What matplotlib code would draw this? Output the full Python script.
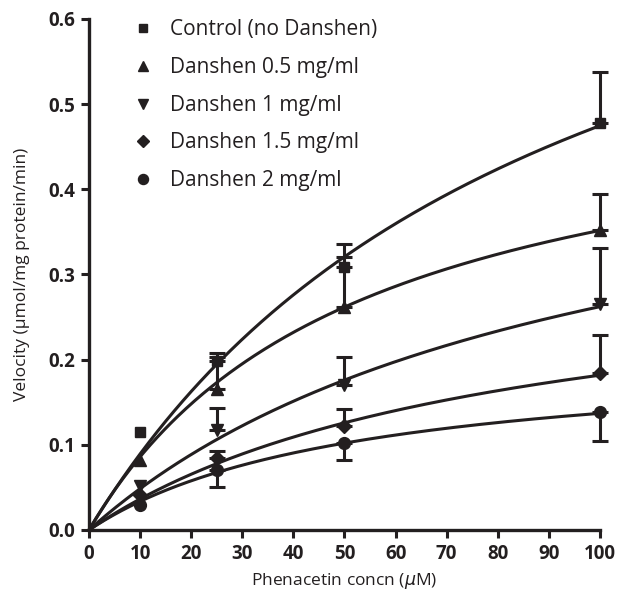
"""Michaelis-Menten plot of phenacetin O-deethylation with Danshen extract."""

import matplotlib
matplotlib.use("Agg")
import matplotlib.pyplot as plt
from matplotlib.lines import Line2D
import numpy as np

# -----------------------------
# Data
# -----------------------------
concentration = [10, 25, 50, 100]

seriesLabels = [
    "Control (no Danshen)",
    "Danshen 0.5 mg/ml",
    "Danshen 1 mg/ml",
    "Danshen 1.5 mg/ml",
    "Danshen 2 mg/ml",
]

controlVelocity = [0.115, 0.198, 0.309, 0.478]
danshen05Velocity = [0.082, 0.166, 0.262, 0.352]
danshen1Velocity = [0.052, 0.117, 0.170, 0.265]
danshen15Velocity = [0.041, 0.085, 0.122, 0.184]
danshen2Velocity = [0.029, 0.071, 0.102, 0.138]

# one-sided error bars (upper for the first four, lower for the last)
controlError = [0.0, 0.010, 0.027, 0.060]
danshen05Error = [0.0, 0.037, 0.059, 0.042]
danshen1Error = [0.0, 0.026, 0.033, 0.066]
danshen15Error = [0.0, 0.008, 0.020, 0.045]
danshen2Error = [0.0, 0.020, 0.020, 0.034]
errorUpward = [True, True, True, True, False]

# fitted Michaelis-Menten parameters of the drawn curves
vmaxFit = [0.913, 0.536, 0.514, 0.327, 0.2085]
kmFit = [92.3, 52.4, 96.0, 79.9, 52.2]

markerStyles = ["s", "^", "v", "D", "o"]
markerSizes = [7.5, 9, 9, 7, 8.5]

xTicks = np.arange(0, 101, 10)
yTicks = [0.0, 0.1, 0.2, 0.3, 0.4, 0.5, 0.6]

textFont = "Open Sans"
inkColor = "#231f20"


def plotSeries(ax, velocity, error, upward, vmax, km, marker, size):
    """Draw one fitted curve, its data points and one-sided error bars."""
    curveX = np.linspace(0, 100, 300)
    curveY = vmax * curveX / (km + curveX)
    ax.plot(curveX, curveY, color=inkColor, lw=2.2, zorder=2, clip_on=False)

    xValues = np.array(concentration, dtype=float)
    yValues = np.array(velocity)
    errValues = np.array(error)
    hasError = errValues > 0

    if upward:
        yerr = [np.zeros(hasError.sum()), errValues[hasError]]
    else:
        yerr = [errValues[hasError], np.zeros(hasError.sum())]

    ax.errorbar(xValues[hasError], yValues[hasError], yerr=yerr, fmt="none",
                ecolor=inkColor, elinewidth=2.2, capsize=6, capthick=2.2,
                zorder=3, clip_on=False)
    ax.plot(xValues, yValues, linestyle="none", marker=marker, markersize=size,
            color=inkColor, zorder=4, clip_on=False)


def main():
    plt.rcParams["font.family"] = [textFont, "DejaVu Sans"]

    fig = plt.figure(figsize=(6.17, 5.99), dpi=100)
    ax = fig.add_axes([0.1442, 0.1152, 0.8282, 0.8531])

    allVelocity = [controlVelocity, danshen05Velocity, danshen1Velocity,
                   danshen15Velocity, danshen2Velocity]
    allError = [controlError, danshen05Error, danshen1Error,
                danshen15Error, danshen2Error]

    for index in range(len(seriesLabels)):
        plotSeries(ax, allVelocity[index], allError[index], errorUpward[index],
                   vmaxFit[index], kmFit[index], markerStyles[index],
                   markerSizes[index])

    ax.set_xlim(0, 100)
    ax.set_ylim(0, 0.6)
    ax.set_xticks(xTicks)
    ax.set_yticks(yTicks)
    ax.set_yticklabels([f"{v:.1f}" for v in yTicks])

    for side in ["top", "right"]:
        ax.spines[side].set_visible(False)
    for side in ["left", "bottom"]:
        ax.spines[side].set_linewidth(2.4)
        ax.spines[side].set_color(inkColor)

    ax.tick_params(direction="out", length=6, width=2.2, color=inkColor,
                   labelsize=13.5, labelcolor=inkColor, pad=4)
    for label in ax.get_xticklabels() + ax.get_yticklabels():
        label.set_fontweight("bold")

    ax.set_xlabel("Phenacetin concn ($\\mathit{\\mu}$M)", fontsize=12.5,
                  color=inkColor, labelpad=5)
    ax.set_ylabel("Velocity (\u00b5mol/mg protein/min)", fontsize=12.5,
                  color=inkColor, labelpad=13)

    handles = [Line2D([], [], linestyle="none", marker=m, markersize=s * 0.85,
                      color=inkColor)
               for m, s in zip(markerStyles, markerSizes)]
    ax.legend(handles, seriesLabels, loc="upper left",
              bbox_to_anchor=(0.0853, 0.999), frameon=False, fontsize=15,
              handlelength=1.0, handletextpad=0.8, labelspacing=0.8,
              borderpad=0, borderaxespad=0, labelcolor=inkColor)

    fig.savefig("out.png", dpi=100)


if __name__ == "__main__":
    main()
